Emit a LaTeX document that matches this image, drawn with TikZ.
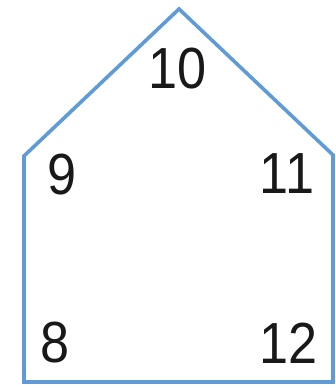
\documentclass[tikz,border=0pt]{standalone}
\usepackage{fontspec}
\setmainfont{Liberation Sans}
\begin{document}
\begin{tikzpicture}[x=1pt,y=-1pt,
  num/.style={inner sep=0pt, font=\fontsize{58}{58}\selectfont, text=black!90, xscale=0.9, transform shape},
  edge/.style={draw={rgb,255:red,95;green,155;blue,215}, line width=3.6pt, line join=miter}]
\useasboundingbox (0,0) rectangle (335,388);
\coordinate (top) at (179,9);
\coordinate (ul) at (24,156);
\coordinate (ll) at (24,382);
\coordinate (lr) at (333,382);
\coordinate (ur) at (333,155);
\draw[edge] (top) -- (ur) -- (lr) -- (ll) -- (ul) -- cycle;
\node[num] (n10) at (178,69) {10};
\node[num] (n9) at (62,175) {9};
\node[num] (n11) at (287,174) {11};
\node[num] (n8) at (55,343) {8};
\node[num] (n12) at (289,343) {12};
\end{tikzpicture}
\end{document}
